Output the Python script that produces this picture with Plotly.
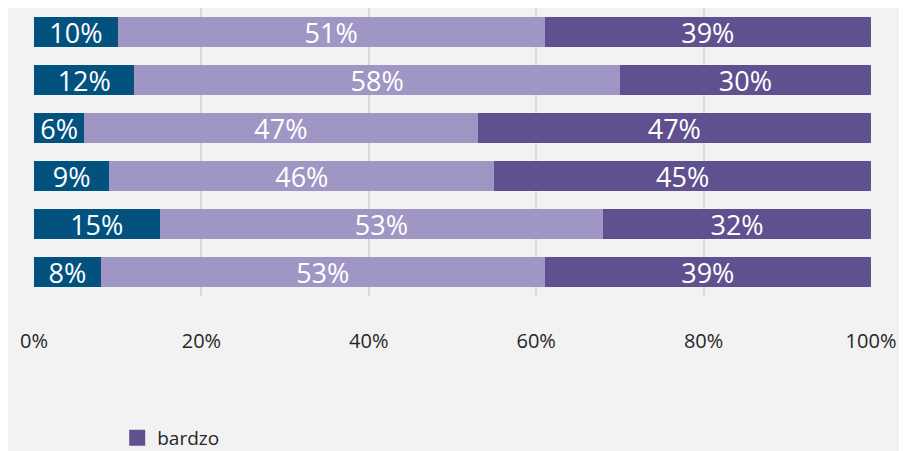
import plotly.graph_objects as go

categories = ['Q1', 'Q2', 'Q3', 'Q4', 'Q5', 'Q6']
wcale = [10, 12, 6, 9, 15, 8]
srednio = [51, 58, 47, 46, 53, 53]
bardzo = [39, 30, 47, 45, 32, 39]
tick_vals = [0, 20, 40, 60, 80, 100]
tick_text = ['0%', '20%', '40%', '60%', '80%', '100%']

series = [
    ('wcale', wcale, '#02517F'),
    ('średnio', srednio, '#A096C4'),
    ('bardzo', bardzo, '#5F508F'),
]

fig = go.Figure()
for name, vals, color in series:
    fig.add_trace(go.Bar(
        y=categories, x=vals, name=name, orientation='h',
        marker=dict(color=color, line=dict(width=0)),
        text=[f'{v}%' for v in vals],
        textposition='inside', insidetextanchor='middle',
        textfont=dict(family='Open Sans', size=27, color='white'),
        showlegend=False, legendgroup=name,
    ))

# legend entry only for "bardzo" (bigger square symbol)
fig.add_trace(go.Scatter(
    x=[None], y=[None], mode='markers', name='bardzo', legendgroup='bardzo',
    marker=dict(symbol='square', size=20, color='#5F508F'),
    showlegend=True, hoverinfo='skip',
))

fig.update_layout(
    width=907, height=451,
    barmode='stack', bargap=0.357,
    plot_bgcolor='#F2F2F2', paper_bgcolor='#F2F2F2',
    margin=dict(l=26, r=44, t=0, b=163, autoexpand=False),
    font=dict(family='Open Sans', size=20, color='#262626'),
    uniformtext=dict(mode='show', minsize=27),
    xaxis=dict(range=[0, 100], tickvals=tick_vals, ticktext=tick_text,
               showgrid=True, gridcolor='#D9D9D9', gridwidth=2, zeroline=False,
               ticks='outside', ticklen=27, tickcolor='rgba(0,0,0,0)',
               tickfont=dict(size=20, color='#262626')),
    yaxis=dict(autorange='reversed', showticklabels=False, showgrid=False, zeroline=False),
    showlegend=True,
    legend=dict(x=0.0994, xanchor='left', y=-0.427, yanchor='top',
                itemsizing='trace',
                bgcolor='rgba(0,0,0,0)', font=dict(size=19, color='#262626')),
)

fig.write_html('out.html')
